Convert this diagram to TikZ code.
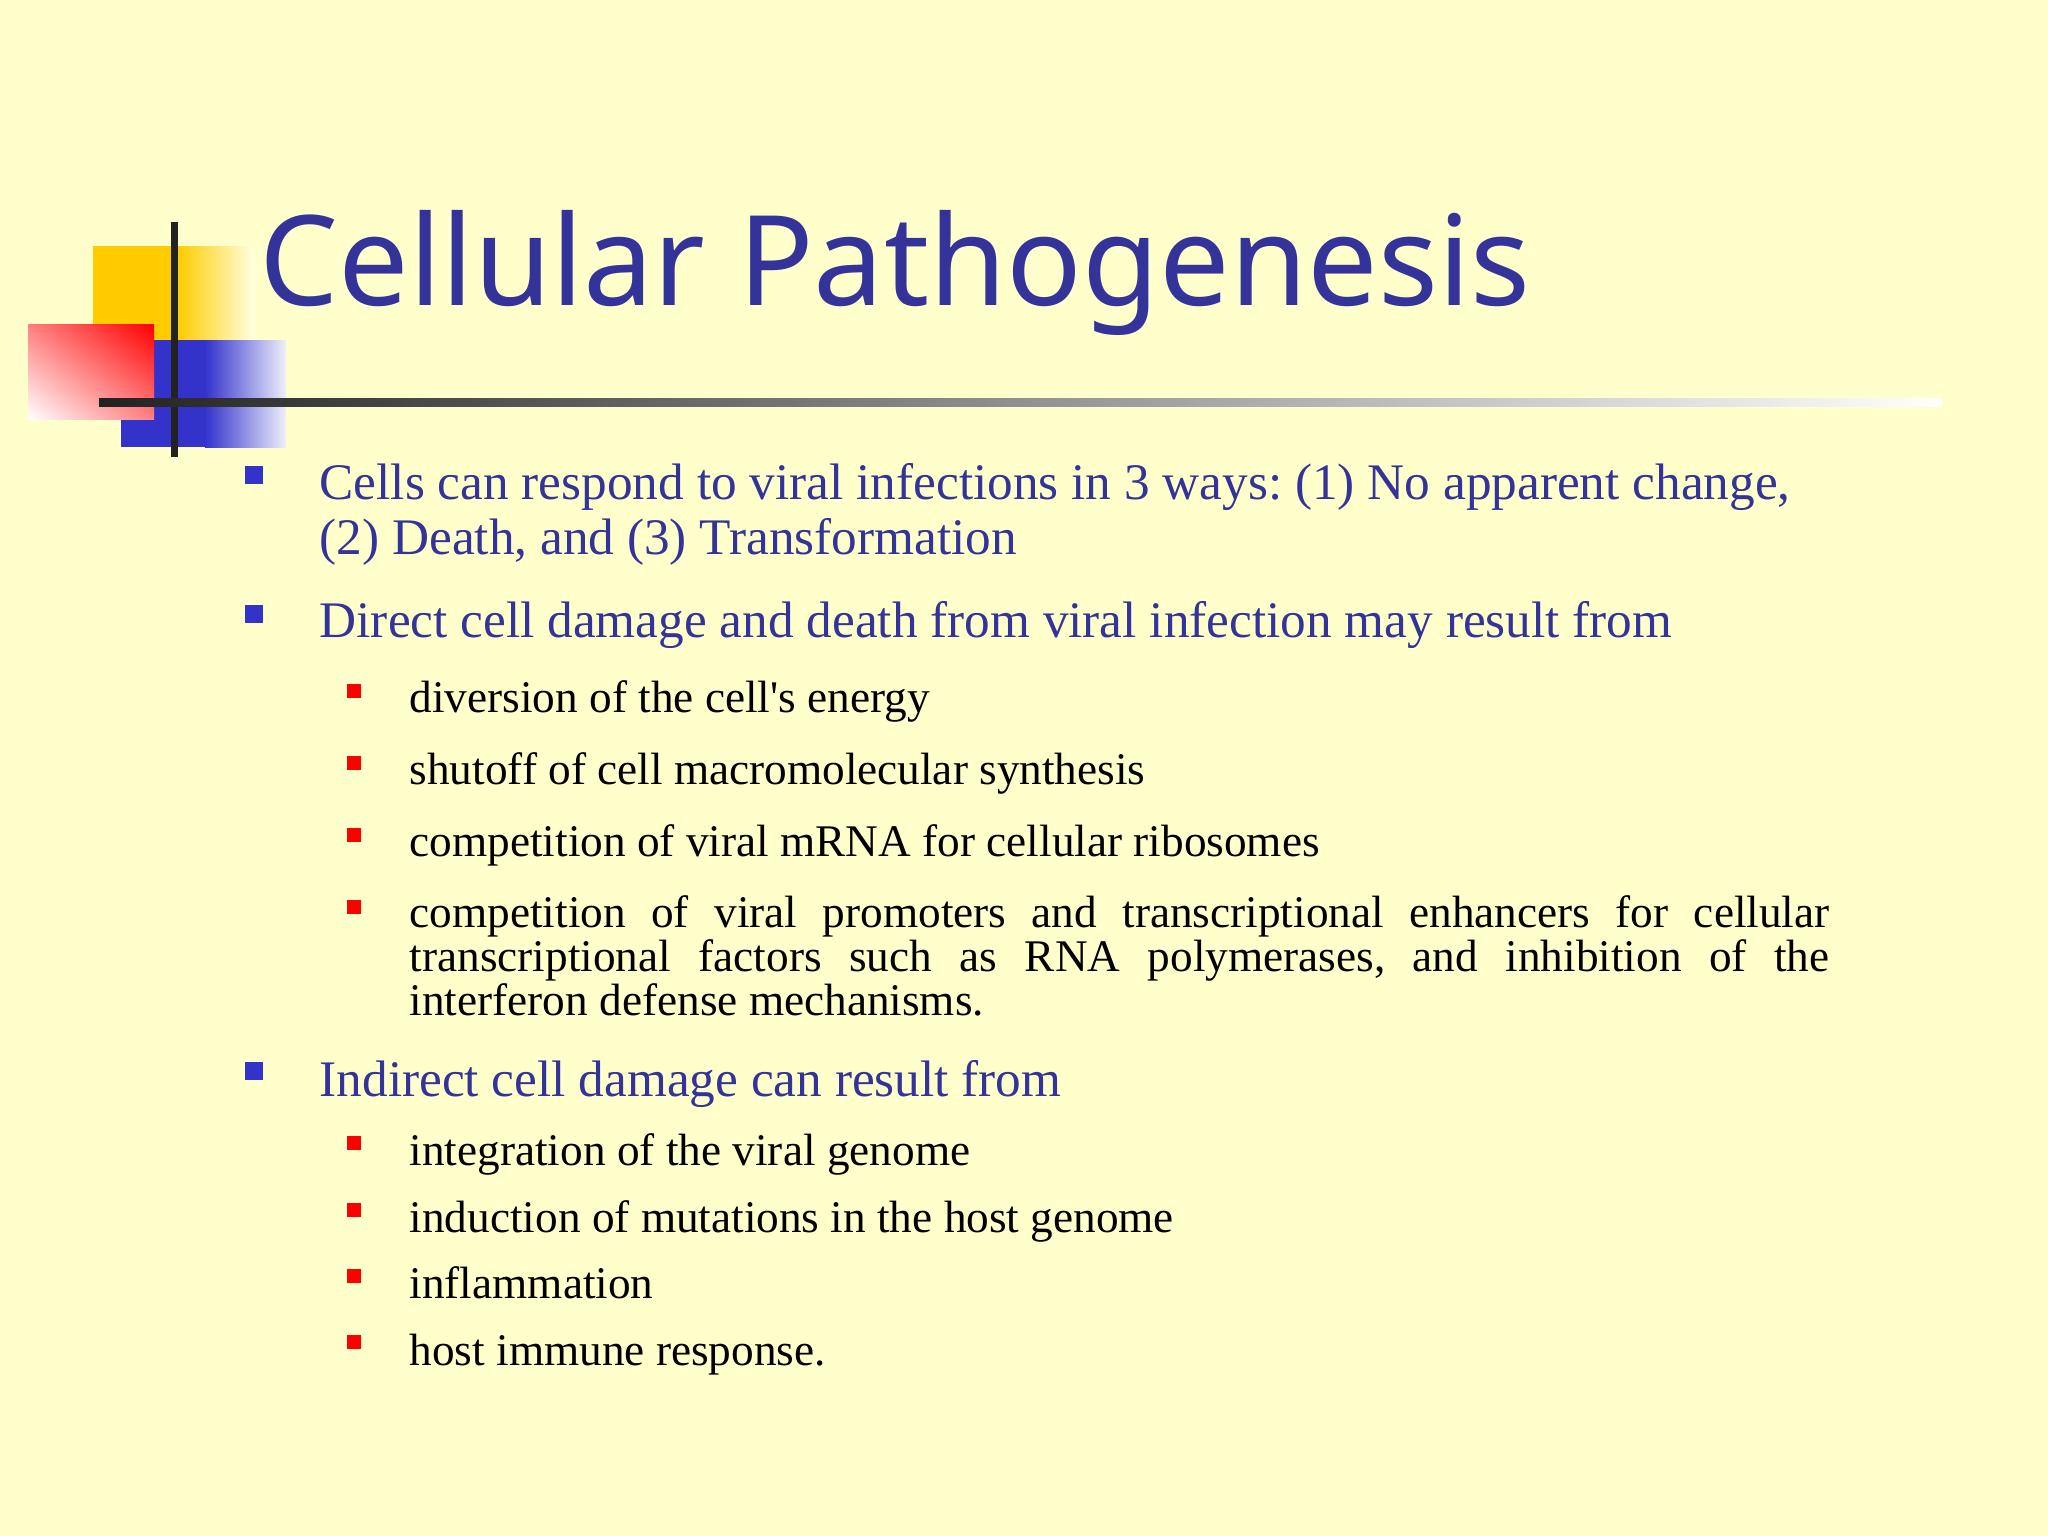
\documentclass[tikz,border=0pt]{standalone}
\usepackage{fontspec}
\newfontfamily\bodyfont{Liberation Serif}
\newfontfamily\titlefont{Noto Sans}
\usepackage{xcolor}
\usetikzlibrary{shadings}
\definecolor{slidebg}{HTML}{FFFFCC}
\definecolor{slideblue}{HTML}{333399}
\definecolor{bulletblue}{HTML}{3333CC}
\definecolor{barblack}{HTML}{222222}
\definecolor{decoyellow}{HTML}{FFCC00}
\hyphenpenalty=10000
\frenchspacing

\tikzset{
    mainline/.style={anchor=base west, inner sep=0pt, text=slideblue, font=\bodyfont\fontsize{14.58}{15.6}\selectfont},
    subline/.style={anchor=base west, inner sep=0pt, text=black, font=\bodyfont\fontsize{12.87}{12.45}\selectfont},
    mainbullet/.style={fill=bulletblue, inner sep=0pt, minimum size=0.18cm},
    subbullet/.style={fill=red, inner sep=0pt, minimum size=0.14cm}
}

\begin{document}
\begin{tikzpicture}[x=0.01cm, y=-0.01cm]
    \useasboundingbox (0, 0) rectangle (2048, 1536);
    \fill[slidebg] (0, 0) rectangle (2048, 1536);

    % Corner decoration
    \fill[decoyellow] (93, 246) rectangle (178, 340);
    \shade[left color=decoyellow, right color=slidebg!60!white] (178, 246) rectangle (254, 340);
    \fill[bulletblue] (121, 340) rectangle (205, 447);
    \shade[left color=bulletblue, right color=bulletblue!8!white] (205, 340) rectangle (286, 447);
    \shade[upper right=red, lower left=white, upper left=red!50!white, lower right=red!50!white] (28, 324) rectangle (154, 419);
    \fill[barblack] (171, 222) rectangle (178, 457);
    \shade[left color=barblack, right color=white!95!slidebg] (99, 398) rectangle (1942, 406);

    % Title
    \node[anchor=base west, inner sep=0pt, text=slideblue, font=\titlefont\fontsize{35.6}{40}\selectfont] (title) at (259, 305) {Cellular Pathogenesis};

    % First block
    \node[mainbullet, anchor=north west] (b1) at (244, 465) {};
    \node[mainline] (t1) at (319, 499) {Cells can respond to viral infections in 3 ways: (1) No apparent change,};
    \node[mainline] (t1b) at (319, 554) {(2) Death, and (3) Transformation};

    % Direct damage
    \node[mainbullet, anchor=north west] (b2) at (244, 604) {};
    \node[mainline] (t2) at (319, 637) {Direct cell damage and death from viral infection may result from};
    \node[subbullet, anchor=north west] (s1) at (346.5, 683) {};
    \node[subline] (u1) at (409, 712) {diversion of the cell's energy};
    \node[subbullet, anchor=north west] (s2) at (346.5, 755) {};
    \node[subline] (u2) at (409, 784) {shutoff of cell macromolecular synthesis};
    \node[subbullet, anchor=north west] (s3) at (346.5, 827) {};
    \node[subline] (u3) at (409, 856) {competition of viral mRNA for cellular ribosomes};
    \node[subbullet, anchor=north west] (s4) at (346.5, 899) {};
    \node[subline, anchor=north west, text width=14.19cm, align=justify] (u4) at (409, 895) {competition of viral promoters and transcriptional enhancers for cellular transcriptional factors such as RNA polymerases, and inhibition of the interferon defense mechanisms.};

    % Indirect damage
    \node[mainbullet, anchor=north west] (b3) at (244, 1061) {};
    \node[mainline] (t3) at (319, 1096) {Indirect cell damage can result from};
    \node[subbullet, anchor=north west] (s5) at (346.5, 1135) {};
    \node[subline] (v1) at (409, 1165) {integration of the viral genome};
    \node[subbullet, anchor=north west] (s6) at (346.5, 1202) {};
    \node[subline] (v2) at (409, 1232) {induction of mutations in the host genome};
    \node[subbullet, anchor=north west] (s7) at (346.5, 1268) {};
    \node[subline] (v3) at (409, 1298) {inflammation};
    \node[subbullet, anchor=north west] (s8) at (346.5, 1334) {};
    \node[subline] (v4) at (409, 1365) {host immune response.};
\end{tikzpicture}
\end{document}
